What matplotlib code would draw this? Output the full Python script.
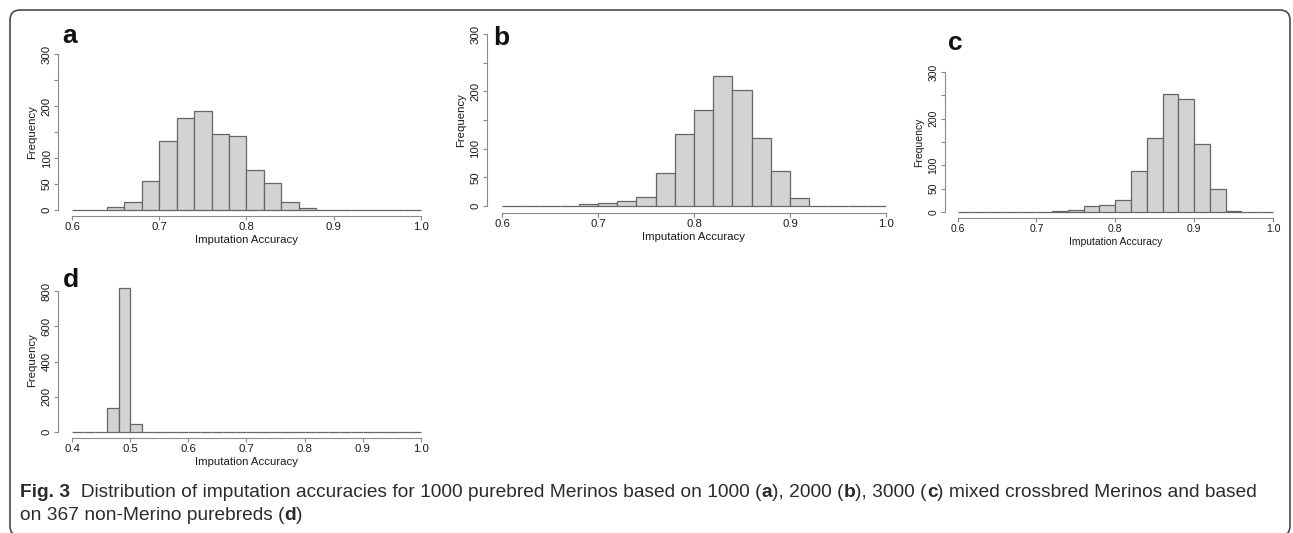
import numpy as np
import matplotlib.pyplot as plt
from matplotlib.patches import FancyBboxPatch

plt.rcParams['font.family'] = ['Liberation Sans', 'DejaVu Sans']

# histogram bins (0.02 wide) and counts
edges_abc = np.linspace(0.6, 1.0, 21)
edges_d = np.linspace(0.4, 1.0, 31)

counts_a = [0, 0, 6, 16, 55, 133, 176, 190, 146, 143, 77, 52, 15, 4, 0, 0, 0, 0, 0, 0]
counts_b = [0, 0, 0, 0, 3, 6, 8, 16, 58, 126, 167, 226, 202, 118, 61, 14, 0, 0, 0, 0]
counts_c = [0, 0, 0, 0, 0, 1, 3, 4, 12, 14, 26, 87, 158, 252, 242, 146, 49, 3, 0, 0]
counts_d = [0, 0, 0, 137, 820, 46] + [0] * 24

xticks_abc = [0.6, 0.7, 0.8, 0.9, 1.0]
xticks_d = [0.4, 0.5, 0.6, 0.7, 0.8, 0.9, 1.0]
yticks_abc = [0, 50, 100, 150, 200, 250, 300]
ylabels_abc = ['0', '50', '100', '', '200', '', '300']
yticks_d = [0, 200, 400, 600, 800]
ylabels_d = ['0', '200', '400', '600', '800']

W, H = 1293, 533
fig = plt.figure(figsize=(W / 100, H / 100), dpi=100)

AXIS_COL = '#8a8a8a'


def panel(box, edges, counts, xticks, yticks, ylabels, fs):
    left, top, right, bottom = box
    ax = fig.add_axes([left / W, 1 - bottom / H, (right - left) / W, (bottom - top) / H])
    ax.bar(edges[:-1], counts, width=np.diff(edges), align='edge',
           color='#d3d3d3', edgecolor='#666666', linewidth=0.9)
    # R style: 4% padding, axes only over the tick range
    xr = edges[-1] - edges[0]
    ax.set_xlim(edges[0] - 0.04 * xr, edges[-1] + 0.04 * xr)
    ymax = max(max(counts), yticks[-1])
    ax.set_ylim(-0.04 * ymax, ymax * 1.04)
    for s in ['top', 'right']:
        ax.spines[s].set_visible(False)
    ax.spines['left'].set_bounds(yticks[0], yticks[-1])
    ax.spines['bottom'].set_bounds(xticks[0], xticks[-1])
    for s in ['left', 'bottom']:
        ax.spines[s].set_color(AXIS_COL)
        ax.spines[s].set_linewidth(0.8)
    ax.set_xticks(xticks)
    ax.set_xticklabels([f'{t:.1f}' for t in xticks], fontsize=fs)
    ax.set_yticks(yticks)
    ax.set_yticklabels(ylabels, fontsize=fs, rotation=90, va='center')
    ax.tick_params(length=3, width=0.8, color=AXIS_COL, pad=1.5, labelcolor='#1a1a1a')
    ax.set_xlabel('Imputation Accuracy', fontsize=fs, labelpad=2, color='#1a1a1a')
    ax.set_ylabel('Frequency', fontsize=fs, labelpad=3, color='#1a1a1a')
    ax.patch.set_visible(False)
    return ax


panel((58, 47.8, 435, 216.2), edges_abc, counts_a, xticks_abc, yticks_abc, ylabels_abc, 8.2)
panel((486.6, 27.1, 901.4, 212.9), edges_abc, counts_b, xticks_abc, yticks_abc, ylabels_abc, 8.2)
panel((944.9, 66.4, 1285.6, 217.6), edges_abc, counts_c, xticks_abc, yticks_abc, ylabels_abc, 7.5)
panel((58, 281.9, 435, 437.8), edges_d, counts_d, xticks_d, yticks_d, ylabels_d, 8.2)

# panel letters
for letter, x, y in [('a', 62, 43), ('b', 493, 45), ('c', 948, 50), ('d', 63, 287)]:
    fig.text(x / W, 1 - y / H, letter, fontsize=19, fontweight='bold',
             ha='left', va='baseline', color='#111111')

# rounded frame around the figure (bottom edge runs off the image)
frame = FancyBboxPatch((10, H - 536), 1280, 526, boxstyle='round,pad=0,rounding_size=10',
                       transform=None, facecolor='none', edgecolor='#4a4a4a', linewidth=1.2)
fig.add_artist(frame)

# caption with bold runs
line1 = [('Fig. 3', 'bold'), ('  Distribution of imputation accuracies for 1000 purebred Merinos based on 1000 (', 'normal'),
         ('a', 'bold'), ('), 2000 (', 'normal'), ('b', 'bold'), ('), 3000 (', 'normal'), ('c', 'bold'),
         (') mixed crossbred Merinos and based', 'normal')]
line2 = [('on 367 non-Merino purebreds (', 'normal'), ('d', 'bold'), (')', 'normal')]

renderer = fig.canvas.get_renderer()


def draw_runs(runs, x0, y0, size):
    x = x0
    items = []
    for txt, wt in runs:
        t = fig.text(x / W, 1 - y0 / H, txt, fontsize=size, fontweight=wt,
                     ha='left', va='baseline', color='#2b2b2b')
        x += t.get_window_extent(renderer).width
        items.append(t)
    return x, items


# fit the first line to its width in the reference
end, tmp = draw_runs(line1, 20, 497, 12)
for t in tmp:
    t.remove()
cap_size = 12 * (1263 - 20) / (end - 20)
draw_runs(line1, 20, 497, cap_size)
draw_runs(line2, 20, 520, cap_size)

fig.savefig('out.png', dpi=100)
